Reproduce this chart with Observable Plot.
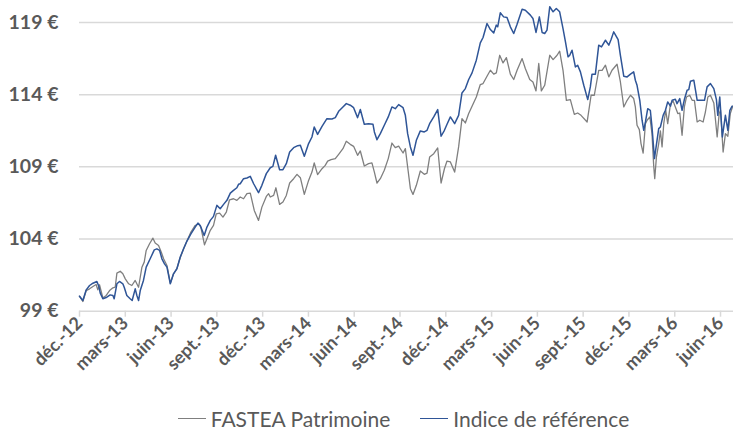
<!DOCTYPE html>
<html><head><meta charset="utf-8">
<script src="https://cdn.jsdelivr.net/npm/d3@7"></script>
<script src="https://cdn.jsdelivr.net/npm/@observablehq/plot@0.6"></script>
<style>
body{margin:0;background:#fff;font-family:Lato,"Open Sans",sans-serif;}
#legend{display:flex;justify-content:center;align-items:center;padding-left:74px;height:40px;margin-top:8px;color:#595959;font-size:21px;font-family:Lato,sans-serif;}
.item{display:flex;align-items:center;margin:0 15px;}
.sw{display:inline-block;width:28px;height:0;border-top:1.5px solid;margin-right:5px;}
</style></head>
<body><div id="chart"></div><div id="legend"></div>
<script>
// x values = months elapsed since 1 December 2012
const tickMonths = [0,3,6,9,12,15,18,21,24,27,30,33,36,39,42];
const tickLabels = ["déc.-12","mars-13","juin-13","sept.-13","déc.-13","mars-14","juin-14","sept.-14","déc.-14","mars-15","juin-15","sept.-15","déc.-15","mars-16","juin-16"];
const yTicks = [99,104,109,114,119];
const seriesNames = ["FASTEA Patrimoine","Indice de référence"];

const fundMonths = [0.00,0.22,0.44,0.66,0.88,1.09,1.20,1.31,1.53,1.75,1.97,2.19,2.34,2.45,2.67,2.84,3.00,3.22,3.43,3.65,3.87,4.09,4.24,4.37,4.59,4.81,4.96,5.18,5.36,5.51,5.73,5.95,6.16,6.38,6.60,6.82,7.04,7.30,7.58,7.80,7.95,8.19,8.35,8.57,8.78,8.96,9.18,9.40,9.62,9.83,10.09,10.31,10.53,10.75,10.97,11.19,
11.45,11.73,11.95,12.24,12.39,12.50,12.72,12.87,13.11,13.33,13.55,13.77,14.03,14.25,14.47,14.73,15.01,15.23,15.38,15.60,15.89,16.10,16.26,16.48,16.76,16.98,17.26,17.48,17.74,17.96,18.22,18.40,18.66,18.94,19.16,19.32,19.49,19.71,19.97,20.23,20.47,20.69,20.91,21.20,21.35,21.50,21.68,21.85,22.07,22.33,22.59,22.77,22.94,23.21,23.47,23.69,23.91,24.08,24.30,24.58,24.84,25.06,25.28,25.50,25.72,26.00,26.26,26.44,26.70,26.92,
27.14,27.31,27.53,27.75,27.97,28.23,28.45,28.67,29.00,29.21,29.50,29.71,29.91,30.09,30.26,30.48,30.81,31.03,31.29,31.46,31.68,31.90,32.16,32.42,32.64,32.86,33.26,33.52,33.73,34.02,34.24,34.46,34.68,34.89,35.22,35.44,35.66,35.88,36.10,36.31,36.42,36.53,36.68,36.79,36.93,37.08,37.19,37.37,37.51,37.62,37.69,37.80,37.95,38.06,38.17,38.28,38.41,38.54,38.72,38.89,39.04,39.20,39.33,39.48,39.63,39.77,39.98,40.14,40.29,40.47,40.64,40.86,41.01,41.17,41.34,41.56,41.78,41.91,42.00,42.17,42.32,42.48,42.64,42.80];
const fundValues = [100.04,99.67,100.43,100.55,100.71,100.85,100.48,100.83,99.92,100.09,100.43,100.62,100.66,101.64,101.77,101.59,101.24,100.90,100.78,101.13,100.66,102.05,102.40,103.21,103.67,104.06,103.72,103.55,103.09,102.63,102.17,100.94,101.59,101.94,102.70,103.32,103.86,104.48,104.94,105.06,104.83,103.60,104.02,104.60,104.94,105.75,105.80,105.52,105.87,106.72,106.79,106.68,106.91,106.79,107.14,107.18,
105.98,105.29,106.21,106.95,107.14,106.91,107.02,107.55,106.40,106.56,107.02,107.88,108.18,108.48,108.25,107.09,108.06,108.64,109.27,108.46,108.87,109.10,109.40,109.50,109.57,109.87,110.26,110.77,110.56,110.42,109.80,110.10,109.06,109.22,109.27,108.64,107.88,108.18,108.76,109.57,110.65,110.33,110.44,109.96,110.26,108.99,107.49,107.09,107.72,108.71,108.48,108.57,109.68,109.91,110.31,107.88,108.87,109.40,109.34,108.64,110.38,112.34,112.04,112.69,113.20,113.84,114.70,114.77,115.28,115.69,
115.42,115.51,116.73,116.20,116.57,115.42,115.05,115.69,116.50,115.81,115.05,114.88,114.26,116.16,114.26,114.65,116.73,116.43,116.73,117.01,115.69,113.61,113.66,112.64,112.73,112.57,112.11,113.96,113.96,115.69,115.69,116.04,115.23,115.69,116.11,114.88,113.15,113.61,113.96,113.73,113.15,111.88,111.58,110.61,109.96,111.99,112.23,112.46,111.30,109.10,108.18,109.68,110.61,111.49,110.38,111.99,112.92,111.99,113.34,113.57,113.15,112.69,112.73,111.19,113.15,113.84,113.96,113.61,113.61,112.11,112.23,112.11,112.80,113.84,113.96,113.43,111.07,112.69,112.92,110.03,111.30,111.12,112.69,113.20];

const indexMonths = [0.00,0.22,0.44,0.66,0.88,1.14,1.27,1.36,1.53,1.79,2.01,2.19,2.27,2.45,2.62,2.84,2.93,3.10,3.32,3.45,3.65,3.76,3.87,3.98,4.19,4.37,4.63,4.90,5.07,5.25,5.40,5.57,5.73,5.95,6.16,6.38,6.60,6.82,7.04,7.30,7.58,7.76,7.91,8.17,8.35,8.57,8.78,9.00,9.22,9.44,9.66,9.88,10.09,10.31,10.42,10.53,10.75,10.97,11.19,
11.41,11.73,11.95,12.24,12.50,12.67,12.85,13.11,13.33,13.55,13.77,14.03,14.30,14.47,14.73,15.01,15.23,15.38,15.60,15.89,16.21,16.54,16.76,16.98,17.26,17.48,17.74,17.96,18.22,18.40,18.66,18.94,19.23,19.32,19.49,19.71,19.97,20.23,20.47,20.69,20.91,21.20,21.35,21.50,21.68,21.85,22.07,22.33,22.59,22.77,22.94,23.21,23.47,23.69,23.91,24.08,24.30,24.58,24.84,25.06,25.28,25.50,25.72,26.00,26.26,26.44,26.70,26.92,
27.14,27.31,27.40,27.57,27.79,28.01,28.23,28.45,28.67,29.00,29.21,29.54,29.71,29.91,30.13,30.31,30.48,30.63,30.81,31.03,31.24,31.46,31.68,31.84,32.01,32.12,32.27,32.49,32.64,32.82,33.04,33.30,33.47,33.58,33.80,34.02,34.20,34.46,34.68,34.83,35.00,35.29,35.44,35.66,35.88,36.10,36.31,36.42,36.53,36.71,36.86,36.97,37.08,37.23,37.40,37.51,37.67,37.84,37.95,38.06,38.24,38.39,38.54,38.72,38.83,39.04,39.15,39.33,39.48,39.63,39.81,39.92,40.03,40.25,40.36,40.47,40.68,40.95,41.12,41.34,41.56,41.73,41.82,41.95,42.12,42.32,42.48,42.61,42.76];
const indexValues = [100.04,99.74,100.48,100.78,100.94,101.06,100.71,100.25,99.86,99.97,100.13,100.09,99.86,100.90,101.06,100.90,100.66,100.09,99.86,99.74,100.55,100.09,99.74,100.43,101.13,102.05,102.63,103.25,103.32,103.21,102.63,102.28,102.05,100.90,101.59,101.94,102.75,103.32,103.86,104.36,104.83,105.10,104.94,104.25,104.83,105.29,105.57,106.33,106.10,106.40,106.68,107.18,107.37,107.55,107.79,107.83,108.18,108.23,108.34,
107.83,107.21,107.72,108.53,108.94,109.03,109.80,108.80,108.80,109.22,110.03,110.33,110.47,110.49,109.73,110.61,111.07,111.76,111.25,111.81,112.34,112.32,112.41,112.85,113.15,113.38,113.27,113.10,112.41,112.97,111.95,111.99,111.95,111.42,110.88,111.30,111.88,112.46,113.15,113.03,113.31,113.10,112.57,111.30,110.38,109.80,110.84,111.49,111.42,111.53,111.99,112.46,112.97,111.12,111.53,111.95,112.46,111.99,112.57,114.12,114.42,115.05,115.51,116.39,117.59,117.96,118.93,118.51,
118.28,118.82,118.70,119.67,119.39,119.35,118.70,118.24,118.88,119.92,119.85,119.51,119.28,118.31,119.39,118.31,118.24,118.47,120.09,119.74,119.97,119.74,118.58,117.66,116.62,116.73,117.08,115.92,116.04,115.58,114.65,113.66,114.54,115.42,115.42,117.43,117.31,117.77,117.43,117.82,118.35,117.82,116.73,115.28,115.23,115.42,115.58,115.00,114.65,113.61,112.23,111.53,112.11,113.03,112.92,111.76,109.57,110.84,111.65,111.76,112.57,112.92,113.50,113.20,113.61,113.68,113.38,113.73,112.92,113.66,114.31,114.35,114.93,115.00,114.31,113.61,113.61,113.61,114.54,114.77,114.42,113.66,112.57,113.84,111.07,112.57,111.53,112.92,113.20];

const colors = ["#7f7f7f","#2f5597"];
const fund = fundMonths.map((m,i)=>({m, v:fundValues[i]}));
const index = indexMonths.map((m,i)=>({m, v:indexValues[i]}));

const chart = Plot.plot({
  width:733, height:390,
  marginLeft:79, marginRight:0, marginTop:22, marginBottom:79.3,
  style:{fontFamily:"Lato, sans-serif", fontSize:"19px", fontWeight:"bold", background:"#fff"},
  x:{domain:[0,42.85]},
  y:{domain:[99,119]},
  marks:[
    Plot.gridY(yTicks,{stroke:"#d9d9d9", strokeOpacity:1, strokeWidth:1.5}),
    Plot.axisY(yTicks,{tickSize:0, tickPadding:21, tickFormat:d=>d+"\u00a0€", fill:"#595959", fontSize:19.5, fontWeight:"bold", label:null}),
    Plot.axisX(tickMonths,{tickSize:6, tickPadding:3, tickRotate:-45, stroke:"#d9d9d9", strokeWidth:1.5, strokeOpacity:1, fill:"#595959", fontSize:18, fontWeight:"bold", tickFormat:d=>tickLabels[tickMonths.indexOf(d)], label:null}),
    Plot.line(fund,{x:"m", y:"v", stroke:colors[0], strokeWidth:1.3}),
    Plot.line(index,{x:"m", y:"v", stroke:colors[1], strokeWidth:1.5})
  ]
});
document.getElementById("chart").appendChild(chart);
const leg = document.getElementById("legend");
seriesNames.forEach((n,i)=>{
  const it=document.createElement("span"); it.className="item";
  it.innerHTML=`<span class="sw" style="border-color:${colors[i]}"></span><span>${n}</span>`;
  leg.appendChild(it);
});
</script></body></html>
